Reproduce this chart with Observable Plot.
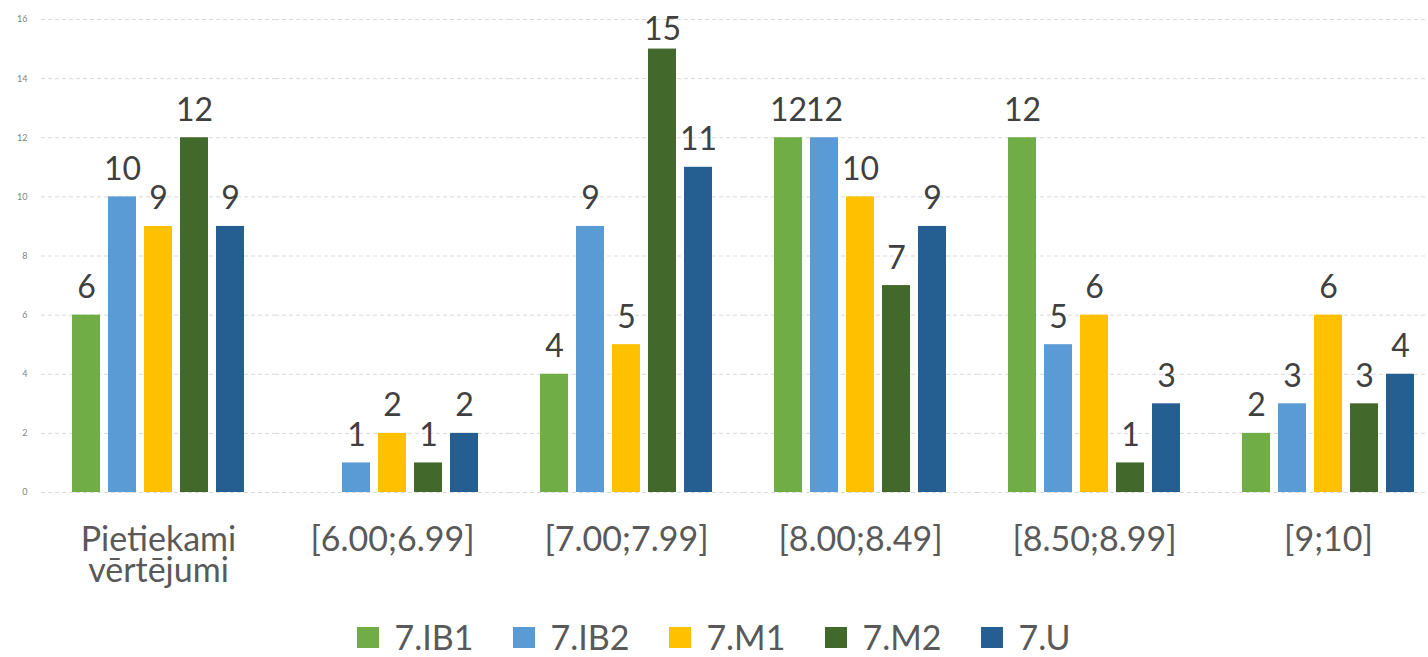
<!DOCTYPE html>
<html>
<head>
<meta charset="utf-8">
<script src="https://cdn.jsdelivr.net/npm/d3@7"></script>
<script src="https://cdn.jsdelivr.net/npm/@observablehq/plot@0.6"></script>
<style>
  html, body { margin: 0; padding: 0; background: #fff; overflow: hidden; }
  #chart { width: 1428px; height: 610px; }
  #legend { display: flex; justify-content: center; align-items: center; gap: 40px;
    font-family: Lato, "Open Sans", sans-serif; font-size: 34px; line-height: 1; color: #595959;
    height: 40px; padding-top: 7px; box-sizing: content-box; }
  .item { display: flex; align-items: center; gap: 15px; }
  .sw { width: 22px; height: 21px; display: inline-block; }
</style>
</head>
<body>
<div id="chart"></div>
<script>
const categories = ["Pietiekami vērtējumi", "[6.00;6.99]", "[7.00;7.99]", "[8.00;8.49]", "[8.50;8.99]", "[9;10]"];
const seriesNames = ["7.IB1", "7.IB2", "7.M1", "7.M2", "7.U"];
const ib1 = [6, null, 4, 12, 12, 2];
const ib2 = [10, 1, 9, 12, 5, 3];
const m1  = [9, 2, 5, 10, 6, 6];
const m2  = [12, 1, 15, 7, 1, 3];
const u   = [9, 2, 11, 9, 3, 4];
const colors = ["#70AD47", "#5B9BD5", "#FFC000", "#43682B", "#255E91"];
const yTicks = [0, 2, 4, 6, 8, 10, 12, 14, 16];

const seriesValues = [ib1, ib2, m1, m2, u];
const data = [];
categories.forEach((c, ci) => {
  seriesNames.forEach((s, si) => {
    const v = seriesValues[si][ci];
    if (v != null) data.push({category: c, series: s, value: v});
  });
});

const font = "Lato, 'Open Sans', sans-serif";
const chart = Plot.plot({
  width: 1428,
  height: 610,
  marginLeft: 41,
  marginRight: 0,
  marginTop: 19,
  marginBottom: 118,
  style: {fontFamily: font, background: "white", overflow: "visible"},
  fx: {domain: categories, range: [41, 1445], padding: 0, label: null},
  x: {domain: seriesNames, paddingInner: 8 / 36, paddingOuter: 0.8611, axis: null},
  y: {domain: [0, 16], axis: null},
  color: {domain: seriesNames, range: colors},
  marks: [
    Plot.ruleY(yTicks, {stroke: "#d9d9d9", strokeDasharray: "4,3", strokeWidth: 1}),
    Plot.axisY({ticks: yTicks, tickSize: 0, tickPadding: 14, fontSize: 9, fill: "#7f7f7f", label: null, anchor: "left"}),
    Plot.axisFx({anchor: "bottom", tickSize: 0, tickPadding: 36, fontSize: 34, fill: "#595959", lineHeight: 0.92,
      label: null, tickFormat: d => d.replace(" ", "\n")}),
    Plot.barY(data, {fx: "category", x: "series", y: "value", fill: "series"}),
    Plot.text(data, {fx: "category", x: "series", y: d => Math.min(d.value, 14.72), text: "value",
      lineAnchor: "bottom", dy: -17, fontSize: 32, fill: "#404040"})
  ]
});
document.getElementById("chart").appendChild(chart);

const legend = document.createElement("div");
legend.id = "legend";
seriesNames.forEach((s, i) => {
  const it = document.createElement("div");
  it.className = "item";
  const sw = document.createElement("span");
  sw.className = "sw";
  sw.style.background = colors[i];
  const t = document.createElement("span");
  t.textContent = s;
  it.appendChild(sw); it.appendChild(t);
  legend.appendChild(it);
});
document.body.appendChild(legend);
</script>
</body>
</html>
